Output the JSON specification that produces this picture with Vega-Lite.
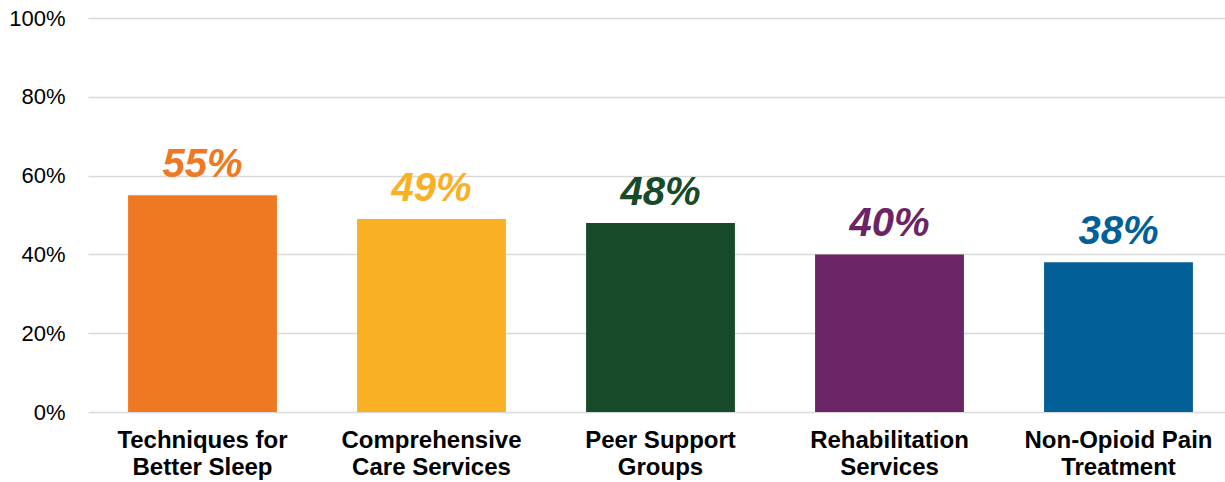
{
  "$schema": "https://vega.github.io/schema/vega-lite/v6.json",
  "autosize": {"type": "none"},
  "padding": {"left": 88, "top": 18, "right": 0, "bottom": 70},
  "width": 1145,
  "height": 394,
  "background": "white",
  "config": {"view": {"stroke": null}, "font": "Liberation Sans"},
  "data": {"values": [
    {"category": "Techniques for|Better Sleep", "value": 0.55, "color": "#EF7922"},
    {"category": "Comprehensive|Care Services", "value": 0.49, "color": "#F9B123"},
    {"category": "Peer Support|Groups", "value": 0.48, "color": "#174A28"},
    {"category": "Rehabilitation|Services", "value": 0.40, "color": "#6B2466"},
    {"category": "Non-Opioid Pain|Treatment", "value": 0.38, "color": "#025F97"}
  ]},
  "encoding": {
    "x": {"field": "category", "type": "nominal", "sort": null,
      "scale": {"paddingInner": 0.35, "paddingOuter": 0.175},
      "axis": {"title": null, "labelAngle": 0, "domain": false, "ticks": false,
        "labelExpr": "split(datum.label, '|')", "labelFont": "Liberation Sans",
        "labelFontSize": 24, "labelFontWeight": "bold", "labelColor": "#000000",
        "labelLineHeight": 27, "labelPadding": 16, "labelLimit": 300}},
    "y": {"field": "value", "type": "quantitative",
      "scale": {"domain": [0, 1]},
      "axis": {"title": null, "format": ".0%", "values": [0, 0.2, 0.4, 0.6, 0.8, 1],
        "domain": false, "ticks": false, "labelFontSize": 22, "labelColor": "#000000",
        "labelPadding": 23, "gridColor": "#d9d9d9", "gridWidth": 1.5,
        "labelFont": "Liberation Sans"}},
    "color": {"field": "color", "type": "nominal", "scale": null, "legend": null}
  },
  "layer": [
    {"mark": {"type": "bar"}},
    {"mark": {"type": "text", "baseline": "alphabetic", "dy": -18, "fontSize": 40,
      "fontWeight": "bold", "fontStyle": "italic", "font": "Liberation Sans"},
     "encoding": {"text": {"field": "value", "format": ".0%"}}}
  ]
}
